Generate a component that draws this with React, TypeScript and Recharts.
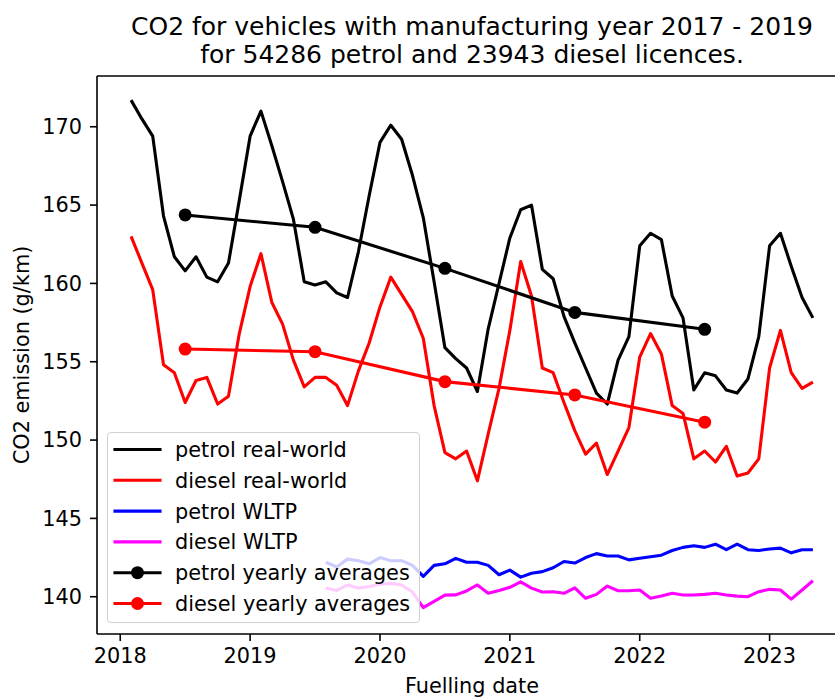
import React from 'react';
import { LineChart, Line, XAxis, YAxis, Legend, ReferenceLine } from 'recharts';

// Monthly values, Feb 2018 .. May 2023
const PETROL_RW = [
  171.7, 170.5, 169.4, 164.3, 161.7, 160.8, 161.7, 160.4, 160.1, 161.3, 165.3,
  169.4, 171.0, 168.8, 166.5, 164.1, 160.1, 159.9, 160.1, 159.4, 159.1, 162.0, 165.6,
  169.0, 170.1, 169.2, 166.9, 164.2, 160.1, 155.9, 155.2, 154.6, 153.1, 157.1, 160.0,
  162.9, 164.7, 165.0, 160.9, 160.3, 157.9, 156.2, 154.6, 153.0, 152.3, 155.1, 156.6,
  162.4, 163.2, 162.8, 159.2, 157.8, 153.2, 154.3, 154.1, 153.2, 153.0, 153.9, 156.6,
  162.4, 163.2, 161.1, 159.1, 157.8,
];
const DIESEL_RW = [
  163.0, 161.3, 159.6, 154.8, 154.3, 152.4, 153.8, 154.0, 152.3, 152.8, 156.8,
  159.8, 161.9, 158.8, 157.4, 155.1, 153.4, 154.0, 154.0, 153.5, 152.2, 154.4, 156.2,
  158.5, 160.4, 159.3, 158.2, 156.5, 152.2, 149.2, 148.8, 149.3, 147.4, 150.4, 153.3,
  157.0, 161.4, 159.2, 154.6, 154.3, 152.4, 150.6, 149.1, 149.8, 147.8, 149.3, 150.8,
  155.3, 156.8, 155.5, 152.2, 151.7, 148.8, 149.3, 148.6, 149.6, 147.7, 147.9, 148.8,
  154.6, 157.0, 154.3, 153.3, 153.7,
];
// WLTP values, Aug 2019 .. May 2023
const WLTP_OFFSET = 18;
const PETROL_WLTP = [
  142.2, 141.9, 142.4, 142.3, 142.1,
  142.5, 142.3, 142.3, 142.0, 141.3, 142.0, 142.1, 142.45, 142.2, 142.2, 142.0, 141.4,
  141.7, 141.25, 141.5, 141.6, 141.85, 142.25, 142.15, 142.5, 142.75, 142.6, 142.6, 142.35,
  142.45, 142.55, 142.65, 142.95, 143.15, 143.25, 143.15, 143.35, 143.0, 143.35, 143.0, 142.95,
  143.05, 143.1, 142.8, 143.0, 143.0,
];
const DIESEL_WLTP = [
  140.55, 140.4, 140.75, 140.55, 140.65,
  140.8, 140.85, 140.75, 140.3, 139.3, 139.7, 140.1, 140.12, 140.37, 140.75, 140.22, 140.4,
  140.6, 140.95, 140.55, 140.3, 140.32, 140.22, 140.57, 139.9, 140.15, 140.68, 140.38, 140.38,
  140.43, 139.9, 140.04, 140.22, 140.11, 140.11, 140.15, 140.22, 140.11, 140.04, 140.0, 140.32,
  140.47, 140.43, 139.85, 140.43, 141.02,
];
// Yearly averages
const AVG_YEARS = [2018.5, 2019.5, 2020.5, 2021.5, 2022.5];
const PETROL_AVG = [164.37, 163.58, 160.96, 158.15, 157.07];
const DIESEL_AVG = [155.81, 155.64, 153.73, 152.88, 151.14];

const X_TICKS = [2018, 2019, 2020, 2021, 2022, 2023];
const Y_TICKS = [140, 145, 150, 155, 160, 165, 170];
const X_DOMAIN = [2017.821, 2023.596];
const Y_DOMAIN = [137.62, 173.24];

const TITLE_1 = 'CO2 for vehicles with manufacturing year 2017 - 2019';
const TITLE_2 = 'for 54286 petrol and 23943 diesel licences.';
const X_LABEL = 'Fuelling date';
const Y_LABEL = 'CO2 emission (g/km)';

const LEGEND_ITEMS = [
  { label: 'petrol real-world', color: '#000000', marker: false },
  { label: 'diesel real-world', color: '#ff0000', marker: false },
  { label: 'petrol WLTP', color: '#0000ff', marker: false },
  { label: 'diesel WLTP', color: '#ff00ff', marker: false },
  { label: 'petrol yearly averages', color: '#000000', marker: true },
  { label: 'diesel yearly averages', color: '#ff0000', marker: true },
];

const monthly = PETROL_RW.map((v, i) => {
  const w = i - WLTP_OFFSET;
  return {
    t: 2018 + (1 + i) / 12,
    petrolRW: v,
    dieselRW: DIESEL_RW[i],
    petrolW: w >= 0 ? PETROL_WLTP[w] : null,
    dieselW: w >= 0 ? DIESEL_WLTP[w] : null,
  };
});
const yearly = AVG_YEARS.map((t, i) => ({ t, petrolAvg: PETROL_AVG[i], dieselAvg: DIESEL_AVG[i] }));

const FONT = 'DejaVu Sans';
const FS = 20.83;
const LW = 3.1;

const LegendBox = () => (
  <div
    style={{
      width: 313,
      height: 191,
      boxSizing: 'border-box',
      background: 'rgba(255,255,255,0.8)',
      border: '1.5px solid #d0d0d0',
      borderRadius: 4,
    }}
  >
    <svg width={313} height={191} style={{ display: 'block', position: 'absolute', left: 0, top: 0 }}>
      {LEGEND_ITEMS.map((it, i) => {
        const cy = 17.5 + i * 30.8;
        return (
          <g key={it.label}>
            <line x1={8} x2={53} y1={cy} y2={cy} stroke={it.color} strokeWidth={LW} strokeLinecap="square" />
            {it.marker && <circle cx={30.5} cy={cy} r={6.5} fill={it.color} />}
            <text x={68} y={cy + 7.5} fontFamily={FONT} fontSize={FS} fill="#000">
              {it.label}
            </text>
          </g>
        );
      })}
    </svg>
  </div>
);

export default function App() {
  return (
    <div
      style={{
        position: 'fixed',
        left: 0,
        top: 0,
        width: 835,
        height: 697,
        overflow: 'hidden',
        background: '#fff',
      }}
    >
      <LineChart
        width={860}
        height={697}
        data={monthly}
        margin={{ top: 76, right: 13, bottom: 0, left: 0 }}
        style={{ fontFamily: FONT }}
      >
        <XAxis
          type="number"
          dataKey="t"
          domain={X_DOMAIN}
          allowDataOverflow
          ticks={X_TICKS}
          interval={0}
          height={63}
          tickSize={7}
          tickMargin={7}
          tickFormatter={(v) => String(v)}
          axisLine={{ stroke: '#000', strokeWidth: 1.6 }}
          tickLine={{ stroke: '#000', strokeWidth: 1.6 }}
          tick={{ fill: '#000', fontSize: FS, fontFamily: FONT }}
        />
        <YAxis
          type="number"
          domain={Y_DOMAIN}
          allowDataOverflow
          ticks={Y_TICKS}
          interval={0}
          width={97}
          tickSize={7}
          tickMargin={8}
          axisLine={{ stroke: '#000', strokeWidth: 1.6 }}
          tickLine={{ stroke: '#000', strokeWidth: 1.6 }}
          tick={{ fill: '#000', fontSize: FS, fontFamily: FONT }}
        />
        <ReferenceLine y={Y_DOMAIN[1]} stroke="#000" strokeWidth={1.6} ifOverflow="visible" />
        <Line dataKey="petrolRW" stroke="#000000" strokeWidth={LW} dot={false} activeDot={false} isAnimationActive={false} strokeLinejoin="round" />
        <Line dataKey="dieselRW" stroke="#ff0000" strokeWidth={LW} dot={false} activeDot={false} isAnimationActive={false} strokeLinejoin="round" />
        <Line dataKey="petrolW" stroke="#0000ff" strokeWidth={LW} dot={false} activeDot={false} isAnimationActive={false} strokeLinejoin="round" />
        <Line dataKey="dieselW" stroke="#ff00ff" strokeWidth={LW} dot={false} activeDot={false} isAnimationActive={false} strokeLinejoin="round" />
        <Line data={yearly} dataKey="petrolAvg" stroke="#000000" strokeWidth={LW} dot={{ r: 6.5, fill: '#000000', stroke: '#000000', strokeWidth: 0 }} activeDot={false} isAnimationActive={false} />
        <Line data={yearly} dataKey="dieselAvg" stroke="#ff0000" strokeWidth={LW} dot={{ r: 6.5, fill: '#ff0000', stroke: '#ff0000', strokeWidth: 0 }} activeDot={false} isAnimationActive={false} />
        <Legend
          layout="vertical"
          align="center"
          verticalAlign="middle"
          content={() => <LegendBox />}
          wrapperStyle={{ left: 107, top: 432, width: 313, height: 191, margin: 0, padding: 0 }}
        />
        <text x={472} y={34.5} textAnchor="middle" fontFamily={FONT} fontSize={25} fill="#000">
          {TITLE_1}
        </text>
        <text x={472} y={63} textAnchor="middle" fontFamily={FONT} fontSize={25} fill="#000">
          {TITLE_2}
        </text>
        <text x={472} y={693} textAnchor="middle" fontFamily={FONT} fontSize={FS} fill="#000">
          {X_LABEL}
        </text>
        <text
          x={29}
          y={355}
          textAnchor="middle"
          fontFamily={FONT}
          fontSize={FS}
          fill="#000"
          transform="rotate(-90, 29, 355)"
        >
          {Y_LABEL}
        </text>
      </LineChart>
    </div>
  );
}
